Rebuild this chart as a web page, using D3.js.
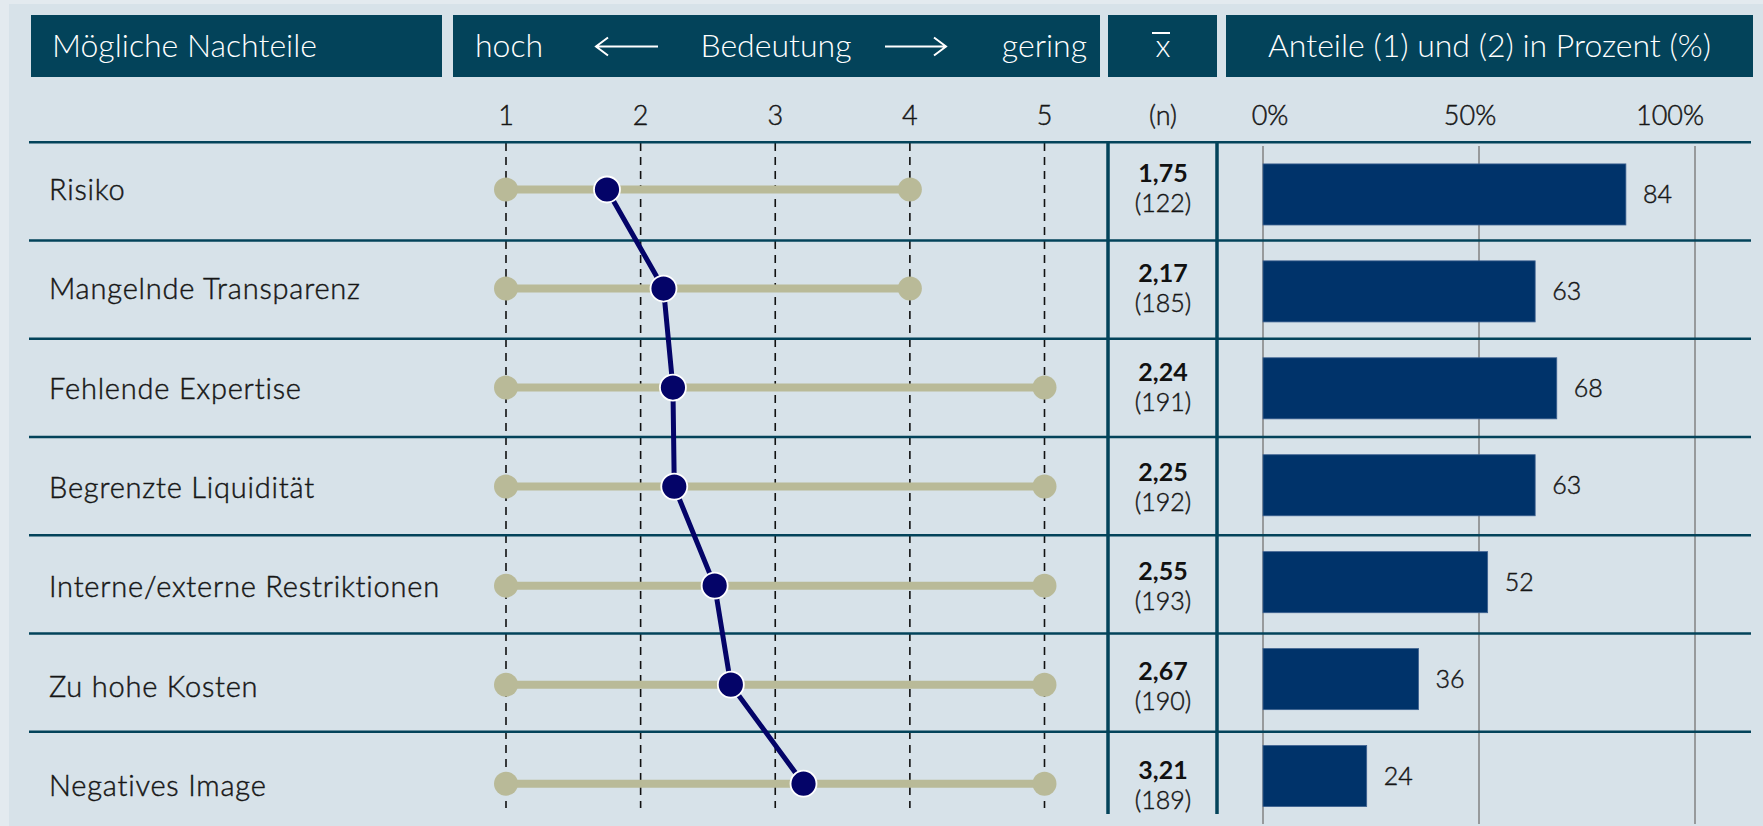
<!DOCTYPE html>
<html>
<head>
<meta charset="utf-8">
<script src="https://cdn.jsdelivr.net/npm/d3@7"></script>
<style>
  body { margin: 0; background: #e3eaef; }
  svg { display: block; font-family: Lato, "Open Sans", sans-serif; }
  .lt { font-weight: 300; stroke: #161616; stroke-width: 0.45px; }
</style>
</head>
<body>
<svg id="chart" width="1763" height="826"></svg>
<script>
// Mögliche Nachteile - Bedeutung (Mittelwert) und Anteile (1)+(2)
var categories = ["Risiko", "Mangelnde Transparenz", "Fehlende Expertise", "Begrenzte Liquidität",
                  "Interne/externe Restriktionen", "Zu hohe Kosten", "Negatives Image"];
var means = [1.75, 2.17, 2.24, 2.25, 2.55, 2.67, 3.21];
var counts = [122, 185, 191, 192, 193, 190, 189];
var rangeMin = [1, 1, 1, 1, 1, 1, 1];
var rangeMax = [4, 4, 5, 5, 5, 5, 5];
var shares = [84, 63, 68, 63, 52, 36, 24];
var scaleTicks = [1, 2, 3, 4, 5];
var pctTicks = [0, 50, 100];

var dark = "#03435a", navy = "#00336a", dotNavy = "#040468", khaki = "#b9ba98", ink = "#161616";

var svg = d3.select("#chart");

// panel
svg.append("rect").attr("x", 9).attr("y", 4).attr("width", 1754).attr("height", 822).attr("fill", "#d7e2e9");

// scales
var x = d3.scaleLinear().domain([1, 5]).range([506, 1044.5]);
var xp = d3.scaleLinear().domain([0, 100]).range([1263, 1695]);
var xpLabel = d3.scaleLinear().domain([0, 100]).range([1270, 1670]); // labels sit a bit off the grid
var rowBand = d3.scaleBand().domain(categories).range([142.3, 829.9]);
var yLabel = d3.scalePoint().domain(categories).range([190, 786]);
var yDot = d3.scalePoint().domain(categories).range([189.5, 783.7]);
var yMean = d3.scalePoint().domain(categories).range([182, 779]);
var yBar = d3.scaleBand().domain(categories).range([145.5, 825]).paddingInner(0.37).paddingOuter(0.19);

// header boxes
var heads = [
  {x0: 31, x1: 442}, {x0: 453, x1: 1100}, {x0: 1108, x1: 1217}, {x0: 1226, x1: 1753}
];
svg.selectAll("rect.head").data(heads).enter().append("rect")
  .attr("class", "head")
  .attr("x", function(d) { return d.x0; })
  .attr("y", 15)
  .attr("width", function(d) { return d.x1 - d.x0; })
  .attr("height", 62)
  .attr("fill", dark);

var hg = svg.append("g").attr("fill", "#fff").style("font-size", "32px").style("font-weight", 300);
hg.append("text").attr("x", 52).attr("y", 57).text("Mögliche Nachteile");
hg.append("text").attr("x", 475).attr("y", 57).text("hoch");
hg.append("text").attr("x", 776).attr("y", 57).attr("text-anchor", "middle").text("Bedeutung");
hg.append("text").attr("x", 1087).attr("y", 57).attr("text-anchor", "end").text("gering");
hg.append("text").attr("x", 1163).attr("y", 57).attr("text-anchor", "middle").text("x");
hg.append("text").attr("x", 1489.5).attr("y", 57).attr("text-anchor", "middle").text("Anteile (1) und (2) in Prozent (%)");
svg.append("line").attr("x1", 1152).attr("x2", 1170).attr("y1", 33).attr("y2", 33)
  .attr("stroke", "#fff").attr("stroke-width", 2);

// arrows
var arrowG = svg.append("g").attr("stroke", "#fff").attr("stroke-width", 2).attr("fill", "none");
arrowG.append("path").attr("d", "M596,46.5H658M608,37.5L596,46.5L608,55.5");
arrowG.append("path").attr("d", "M885,46.5H946M934,37.5L946,46.5L934,55.5");

// tick labels
var tg = svg.append("g").attr("class", "lt").style("font-size", "27px").attr("fill", ink).attr("text-anchor", "middle");
tg.selectAll("text.t").data(scaleTicks).enter().append("text")
  .attr("x", function(d) { return x(d); }).attr("y", 125).text(function(d) { return d; });
tg.append("text").attr("x", 1163).attr("y", 125).text("(n)");
tg.selectAll("text.p").data(pctTicks).enter().append("text")
  .attr("x", function(d) { return xpLabel(d); }).attr("y", 125).text(function(d) { return d + "%"; });

// dashed verticals
svg.selectAll("line.dash").data(scaleTicks).enter().append("line")
  .attr("x1", function(d) { return x(d); }).attr("x2", function(d) { return x(d); })
  .attr("y1", 143).attr("y2", 808)
  .attr("stroke", "#111").attr("stroke-width", 1.6).attr("stroke-dasharray", "8,6");

// percent gridlines
svg.selectAll("line.grid").data(pctTicks).enter().append("line")
  .attr("x1", function(d) { return xp(d); }).attr("x2", function(d) { return xp(d); })
  .attr("y1", 146).attr("y2", 824)
  .attr("stroke", "#979a9c").attr("stroke-width", 2);

// row separators
svg.selectAll("line.sep").data(categories).enter().append("line")
  .attr("x1", 29).attr("x2", 1751)
  .attr("y1", function(d) { return rowBand(d); }).attr("y2", function(d) { return rowBand(d); })
  .attr("stroke", dark).attr("stroke-width", 2.5);

// mean column borders
[1108, 1217].forEach(function(px) {
  svg.append("line").attr("x1", px).attr("x2", px).attr("y1", 141).attr("y2", 814)
    .attr("stroke", dark).attr("stroke-width", 3.5);
});

// row labels
svg.selectAll("text.cat").data(categories).enter().append("text")
  .attr("class", "lt")
  .attr("x", 49).attr("y", function(d) { return yLabel(d) + 10; })
  .style("font-size", "29px").style("letter-spacing", "0.8px").attr("fill", ink)
  .text(function(d) { return d; });

// range lines
var rows = categories.map(function(c, i) {
  return {cat: c, lo: rangeMin[i], hi: rangeMax[i], mean: means[i], n: counts[i], share: shares[i]};
});
svg.selectAll("line.range").data(rows).enter().append("line")
  .attr("x1", function(d) { return x(d.lo); }).attr("x2", function(d) { return x(d.hi); })
  .attr("y1", function(d) { return yDot(d.cat); }).attr("y2", function(d) { return yDot(d.cat); })
  .attr("stroke", khaki).attr("stroke-width", 8);
rows.forEach(function(d) {
  [d.lo, d.hi].forEach(function(v) {
    svg.append("circle").attr("cx", x(v)).attr("cy", yDot(d.cat)).attr("r", 12).attr("fill", khaki);
  });
});

// mean profile line
var line = d3.line().x(function(d) { return x(d.mean); }).y(function(d) { return yDot(d.cat); });
svg.append("path").datum(rows).attr("d", line)
  .attr("fill", "none").attr("stroke", dotNavy).attr("stroke-width", 5);
svg.selectAll("circle.mean").data(rows).enter().append("circle")
  .attr("cx", function(d) { return x(d.mean); }).attr("cy", function(d) { return yDot(d.cat); })
  .attr("r", 13).attr("fill", dotNavy).attr("stroke", "#fff").attr("stroke-width", 1.8);

// mean values + n
var fmt = d3.format(".2f");
svg.selectAll("text.mv").data(rows).enter().append("text")
  .attr("x", 1163).attr("y", function(d) { return yMean(d.cat); })
  .attr("text-anchor", "middle").style("font-size", "25px").style("font-weight", 700).attr("fill", "#111")
  .text(function(d) { return fmt(d.mean).replace(".", ","); });
svg.selectAll("text.n").data(rows).enter().append("text")
  .attr("class", "lt")
  .attr("x", 1163).attr("y", function(d) { return yMean(d.cat) + 30; })
  .attr("text-anchor", "middle").style("font-size", "25px").attr("fill", ink)
  .text(function(d) { return "(" + d.n + ")"; });

// bars
svg.selectAll("rect.bar").data(rows).enter().append("rect")
  .attr("x", xp(0)).attr("y", function(d) { return yBar(d.cat); })
  .attr("width", function(d) { return xp(d.share) - xp(0); })
  .attr("height", yBar.bandwidth())
  .attr("fill", navy).attr("stroke", "#3d6190").attr("stroke-width", 0.8);
svg.selectAll("text.val").data(rows).enter().append("text")
  .attr("class", "lt")
  .attr("x", function(d) { return xp(d.share) + 17; })
  .attr("y", function(d) { return yBar(d.cat) + yBar.bandwidth() / 2 + 9; })
  .style("font-size", "25px").attr("fill", ink)
  .text(function(d) { return d.share; });
</script>
</body>
</html>
